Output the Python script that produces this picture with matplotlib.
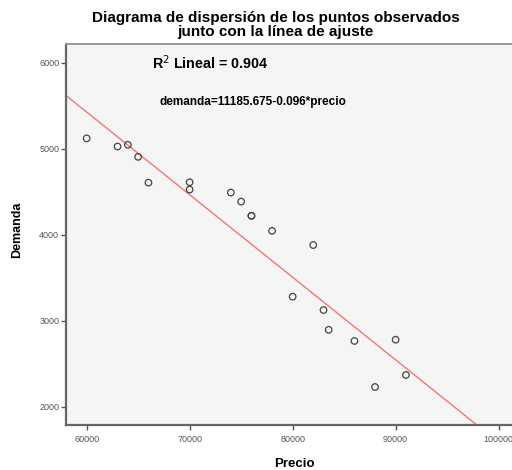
import numpy as np
import matplotlib
matplotlib.use("Agg")
import matplotlib.pyplot as plt

plt.rcParams['font.family'] = ['Liberation Sans', 'DejaVu Sans']

# Observed price / demand pairs
precio = [60000, 63000, 64000, 65000, 66000, 70000, 70000, 74000, 75000, 76000,
          76000, 78000, 82000, 80000, 83000, 83500, 86000, 90000, 88000, 91000]
demanda = [5120, 5025, 5045, 4905, 4605, 4610, 4525, 4490, 4385, 4220,
           4220, 4045, 3880, 3280, 3125, 2895, 2765, 2780, 2230, 2370]

# Fitted linear model
intercepto = 11185.675
pendiente = -0.096
r2 = 0.904

x_ticks = [60000, 70000, 80000, 90000, 100000]
y_ticks = [2000, 3000, 4000, 5000, 6000]

fig = plt.figure(figsize=(5.12, 4.70), dpi=100)
ax = fig.add_axes([0.128, 0.096, 0.872, 0.811])
ax.set_facecolor('#f5f5f5')

ax.set_xlim(57950, 101300)
ax.set_ylim(1790, 6220)

xs = np.array(ax.get_xlim())
ax.plot(xs, intercepto + pendiente * xs, color='#f08080', lw=1.1, zorder=2)

ax.scatter(precio, demanda, s=22, facecolors='none', edgecolors='#444444',
           linewidths=0.9, zorder=3)

ax.set_xticks(x_ticks)
ax.set_yticks(y_ticks)
ax.set_xticklabels([str(v) for v in x_ticks])
ax.set_yticklabels([str(v) for v in y_ticks])
ax.tick_params(axis='both', labelsize=6.5, length=3.5, width=1.0,
               colors='#555555', direction='out')
ax.tick_params(axis='x', pad=3.5)
ax.tick_params(axis='y', pad=1)

for side in ['left', 'bottom']:
    ax.spines[side].set_color('#666666')
    ax.spines[side].set_linewidth(1.6)
ax.spines['top'].set_color('#999999')
ax.spines['top'].set_linewidth(1.4)
ax.spines['right'].set_visible(False)

fig.text(294 / 512, 1 - 464 / 470, 'Precio', fontsize=9.5, fontweight='bold',
         ha='center', va='center')
fig.text(17 / 512, 1 - 230 / 470, 'Demanda', fontsize=9, fontweight='bold',
         ha='center', va='center', rotation=90)

fig.text(0.538, 1 - 25 / 470,
         'Diagrama de dispersión de los puntos observados\njunto con la línea de ajuste',
         ha='center', va='center', fontsize=11, fontweight='bold', linespacing=1.02)

fig.text(152 / 512, 1 - 63 / 470, r'R$^2$ Lineal = %.3f' % r2,
         fontsize=10.3, fontweight='bold', va='center', ha='left')
fig.text(160 / 512, 1 - 102 / 470, 'demanda=%.3f%.3f*precio' % (intercepto, pendiente),
         fontsize=8.5, fontweight='bold', va='center', ha='left')

fig.savefig('out.png', dpi=100)
